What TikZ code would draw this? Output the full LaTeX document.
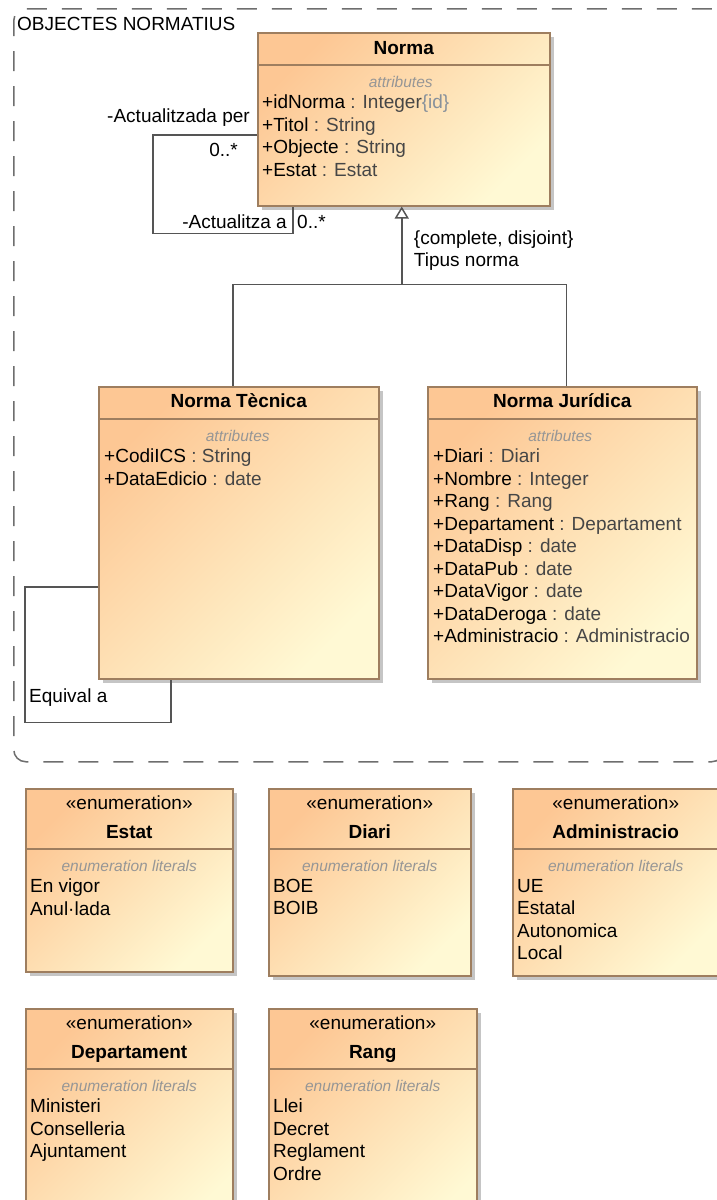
\documentclass[tikz,border=0pt]{standalone}
\usepackage{fontspec}
\setmainfont{Liberation Sans}
\usepackage{xcolor}
\usetikzlibrary{arrows.meta,positioning,calc,shadows}

\definecolor{umlorange}{RGB}{253,199,148}
\definecolor{umlyellow}{RGB}{255,249,212}
\definecolor{umledge}{RGB}{158,126,95}
\definecolor{sectgray}{RGB}{150,150,150}
\definecolor{linegray}{RGB}{85,85,85}
\definecolor{typegray}{RGB}{70,70,70}
\definecolor{idgray}{RGB}{135,145,155}

\newcommand{\typ}[1]{\textcolor{typegray}{#1}}

\begin{document}
\begin{tikzpicture}[x=1pt, y=-1pt,
    font=\fontsize{19}{22.5}\selectfont,
    umlclass/.style={draw=umledge, line width=1.5pt, anchor=north west, inner sep=0pt,
        top color=umlorange, bottom color=umlyellow, shading angle=45,
        drop shadow={shadow xshift=4pt, shadow yshift=-4pt, fill=black!45, opacity=0.5}},
    divider/.style={draw=umledge, line width=1.5pt},
    classname/.style={font=\fontsize{19}{22.5}\selectfont\bfseries, anchor=base, inner sep=0pt},
    stereo/.style={anchor=base, inner sep=0pt},
    sectlabel/.style={font=\fontsize{15.5}{18}\selectfont\itshape, text=sectgray, anchor=base, inner sep=0pt},
    attrlist/.style={align=left, anchor=north west, inner sep=0pt},
    umlline/.style={draw=linegray, line width=1.5pt},
    lbl/.style={inner sep=0pt},
    package/.style={draw=linegray!85, line width=1.5pt, dash pattern=on 20pt off 15pt,
        rounded corners=12pt, anchor=north west, inner sep=0pt}]

    \path[use as bounding box, fill=white] (0,0) rectangle (717,1200);

    % package
    \node[package, minimum width=710pt, minimum height=753pt] (pkg) at (13,8) {};
    \node[lbl, anchor=base west] (pkgname) at ($(pkg.north west)+(4,22)$) {OBJECTES NORMATIUS};

    % Norma
    \node[umlclass, minimum width=292pt, minimum height=173pt] (norma) at (257,32) {};
    \draw[divider] ($(norma.north west)+(0,33)$) -- ($(norma.north east)+(0,33)$);
    \node[classname] (normaname) at ($(norma.north)+(0,22)$) {Norma};
    \node[sectlabel] (normasect) at ($(norma.north)+(-3,55)$) {attributes};
    \node[attrlist] (normaattr) at ($(norma.north west)+(5,63)$)
        {+idNorma \typ{: Integer}\textcolor{idgray}{\{id\}}\\
         +Titol \typ{: String}\\
         +Objecte \typ{: String}\\
         +Estat \typ{: Estat}};

    % Norma Tecnica
    \node[umlclass, minimum width=280pt, minimum height=292pt] (tecnica) at (98,386) {};
    \draw[divider] ($(tecnica.north west)+(0,33)$) -- ($(tecnica.north east)+(0,33)$);
    \node[classname] (tecnicaname) at ($(tecnica.north)+(0,21)$) {Norma Tècnica};
    \node[sectlabel] (tecnicasect) at ($(tecnica.north)+(-1,55)$) {attributes};
    \node[attrlist] (tecnicaattr) at ($(tecnica.north west)+(6,63)$)
        {+CodiICS \typ{: String}\\
         +DataEdicio \typ{: date}};

    % Norma Juridica
    \node[umlclass, minimum width=269pt, minimum height=292pt] (juridica) at (427,386) {};
    \draw[divider] ($(juridica.north west)+(0,33)$) -- ($(juridica.north east)+(0,33)$);
    \node[classname] (juridicaname) at ($(juridica.north)+(0,21)$) {Norma Jurídica};
    \node[sectlabel] (juridicasect) at ($(juridica.north)+(-2,55)$) {attributes};
    \node[attrlist] (juridicaattr) at ($(juridica.north west)+(6,63)$)
        {+Diari \typ{: Diari}\\
         +Nombre \typ{: Integer}\\
         +Rang \typ{: Rang}\\
         +Departament \typ{: Departament}\\
         +DataDisp \typ{: date}\\
         +DataPub \typ{: date}\\
         +DataVigor \typ{: date}\\
         +DataDeroga \typ{: date}\\
         +Administracio \typ{: Administracio}};

    % Actualitza (self association)
    \draw[umlline] ($(norma.north west)+(0,103)$) -- ++(-104,0) |- ($(norma.south west)+(36,27)$) -- ($(norma.south west)+(36,0)$);
    \node[lbl, anchor=base east] (updby) at ($(norma.north west)+(-7,90)$) {-Actualitzada per};
    \node[lbl, anchor=base east] (updbymult) at ($(norma.north west)+(-19,124)$) {0..*};
    \node[lbl, anchor=base east] (upd) at ($(norma.south west)+(30,22)$) {-Actualitza a};
    \node[lbl, anchor=base west] (updmult) at ($(norma.south west)+(40,22)$) {0..*};

    % generalization
    \coordinate (gen) at ($(norma.south)+(-2,78)$);
    \draw[umlline, -{Triangle[open, length=12pt, width=14pt]}] (gen) -- (norma.south -| gen);
    \draw[umlline] ($(tecnica.north)+(-6,0)$) |- (gen) -| ($(juridica.north)+(4,0)$);
    \node[lbl, align=left, anchor=north west] (genset) at ($(gen)+(12,-54)$) {\{complete, disjoint\}\\Tipus norma};

    % Equival a (self association)
    \draw[umlline] ($(tecnica.north west)+(0,201)$) -- ++(-73,0) |- ($(tecnica.south west)+(73,43)$) -- ($(tecnica.south west)+(73,0)$);
    \node[lbl, anchor=base west] (equiv) at ($(tecnica.south west)+(-69,23)$) {Equival a};

    % enumerations
    \node[umlclass, minimum width=207pt, minimum height=183pt] (estat) at (25,788) {};
    \draw[divider] ($(estat.north west)+(0,61)$) -- ($(estat.north east)+(0,61)$);
    \node[stereo] (estatst) at ($(estat.north)+(0,21)$) {«enumeration»};
    \node[classname] (estatname) at ($(estat.north)+(0,50)$) {Estat};
    \node[sectlabel] (estatsect) at ($(estat.north)+(0,83)$) {enumeration literals};
    \node[attrlist] (estatlit) at ($(estat.north west)+(5,91)$) {En vigor\\Anul·lada};

    \node[umlclass, minimum width=202pt, minimum height=187pt] (diari) at (268,788) {};
    \draw[divider] ($(diari.north west)+(0,61)$) -- ($(diari.north east)+(0,61)$);
    \node[stereo] (diarist) at ($(diari.north)+(0,21)$) {«enumeration»};
    \node[classname] (diariname) at ($(diari.north)+(0,50)$) {Diari};
    \node[sectlabel] (diarisect) at ($(diari.north)+(0,83)$) {enumeration literals};
    \node[attrlist] (diarilit) at ($(diari.north west)+(5,91)$) {BOE\\BOIB};

    \node[umlclass, minimum width=210pt, minimum height=187pt] (admin) at (512,788) {};
    \draw[divider] ($(admin.north west)+(0,61)$) -- ($(admin.north east)+(0,61)$);
    \node[stereo] (adminst) at ($(admin.north)+(-2,21)$) {«enumeration»};
    \node[classname] (adminname) at ($(admin.north)+(-2,50)$) {Administracio};
    \node[sectlabel] (adminsect) at ($(admin.north)+(-2,83)$) {enumeration literals};
    \node[attrlist] (adminlit) at ($(admin.north west)+(5,91)$) {UE\\Estatal\\Autonomica\\Local};

    \node[umlclass, minimum width=207pt, minimum height=230pt] (dept) at (25,1008) {};
    \draw[divider] ($(dept.north west)+(0,61)$) -- ($(dept.north east)+(0,61)$);
    \node[stereo] (deptst) at ($(dept.north)+(0,21)$) {«enumeration»};
    \node[classname] (deptname) at ($(dept.north)+(0,50)$) {Departament};
    \node[sectlabel] (deptsect) at ($(dept.north)+(0,83)$) {enumeration literals};
    \node[attrlist] (deptlit) at ($(dept.north west)+(5,91)$) {Ministeri\\Conselleria\\Ajuntament};

    \node[umlclass, minimum width=208pt, minimum height=230pt] (rang) at (268,1008) {};
    \draw[divider] ($(rang.north west)+(0,61)$) -- ($(rang.north east)+(0,61)$);
    \node[stereo] (rangst) at ($(rang.north)+(0,21)$) {«enumeration»};
    \node[classname] (rangname) at ($(rang.north)+(0,50)$) {Rang};
    \node[sectlabel] (rangsect) at ($(rang.north)+(0,83)$) {enumeration literals};
    \node[attrlist] (ranglit) at ($(rang.north west)+(5,91)$) {Llei\\Decret\\Reglament\\Ordre};
\end{tikzpicture}
\end{document}
